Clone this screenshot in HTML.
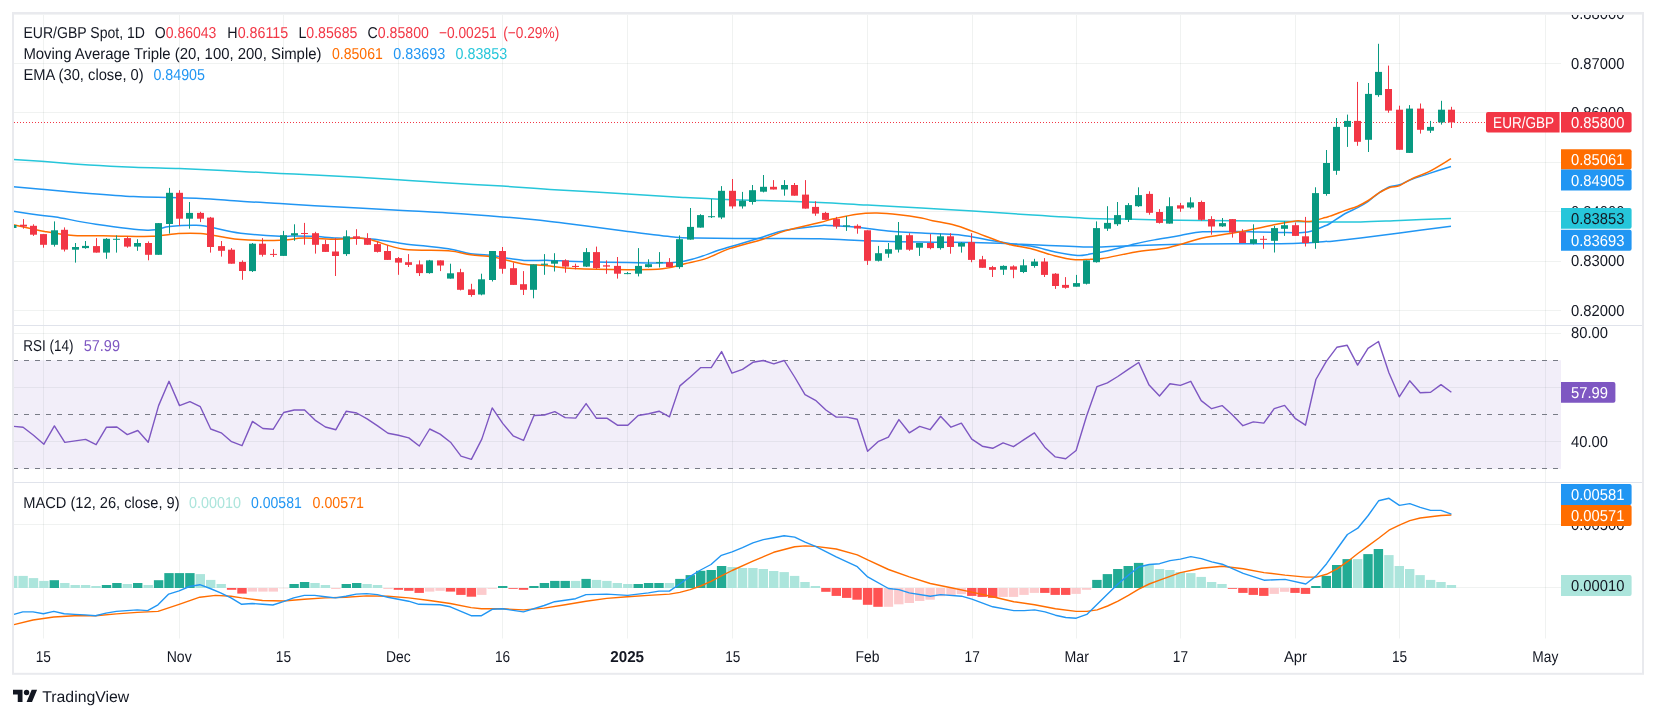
<!DOCTYPE html>
<html><head><meta charset="utf-8"><title>EUR/GBP Chart</title>
<style>html,body{margin:0;padding:0;background:#ffffff;width:1656px;height:718px;overflow:hidden}svg{display:block;will-change:transform}text{font-family:"Liberation Sans",sans-serif;text-rendering:geometricPrecision}</style>
</head><body>
<svg width="1656" height="718" viewBox="0 0 1656 718" font-family='"Liberation Sans", sans-serif'><line x1="43.5" y1="14" x2="43.5" y2="638.5" stroke="#3a4a3e" stroke-opacity="0.075" stroke-width="1"/>
<line x1="179.5" y1="14" x2="179.5" y2="638.5" stroke="#3a4a3e" stroke-opacity="0.075" stroke-width="1"/>
<line x1="283.5" y1="14" x2="283.5" y2="638.5" stroke="#3a4a3e" stroke-opacity="0.075" stroke-width="1"/>
<line x1="398.5" y1="14" x2="398.5" y2="638.5" stroke="#3a4a3e" stroke-opacity="0.075" stroke-width="1"/>
<line x1="502.5" y1="14" x2="502.5" y2="638.5" stroke="#3a4a3e" stroke-opacity="0.075" stroke-width="1"/>
<line x1="627.5" y1="14" x2="627.5" y2="638.5" stroke="#3a4a3e" stroke-opacity="0.075" stroke-width="1"/>
<line x1="732.5" y1="14" x2="732.5" y2="638.5" stroke="#3a4a3e" stroke-opacity="0.075" stroke-width="1"/>
<line x1="867.5" y1="14" x2="867.5" y2="638.5" stroke="#3a4a3e" stroke-opacity="0.075" stroke-width="1"/>
<line x1="972.5" y1="14" x2="972.5" y2="638.5" stroke="#3a4a3e" stroke-opacity="0.075" stroke-width="1"/>
<line x1="1076.5" y1="14" x2="1076.5" y2="638.5" stroke="#3a4a3e" stroke-opacity="0.075" stroke-width="1"/>
<line x1="1180.5" y1="14" x2="1180.5" y2="638.5" stroke="#3a4a3e" stroke-opacity="0.075" stroke-width="1"/>
<line x1="1295.5" y1="14" x2="1295.5" y2="638.5" stroke="#3a4a3e" stroke-opacity="0.075" stroke-width="1"/>
<line x1="1399.5" y1="14" x2="1399.5" y2="638.5" stroke="#3a4a3e" stroke-opacity="0.075" stroke-width="1"/>
<line x1="1545.5" y1="14" x2="1545.5" y2="638.5" stroke="#3a4a3e" stroke-opacity="0.075" stroke-width="1"/>
<line x1="14" y1="63.5" x2="1561" y2="63.5" stroke="#3a4a3e" stroke-opacity="0.075" stroke-width="1"/>
<line x1="14" y1="112.5" x2="1561" y2="112.5" stroke="#3a4a3e" stroke-opacity="0.075" stroke-width="1"/>
<line x1="14" y1="162.5" x2="1561" y2="162.5" stroke="#3a4a3e" stroke-opacity="0.075" stroke-width="1"/>
<line x1="14" y1="211.5" x2="1561" y2="211.5" stroke="#3a4a3e" stroke-opacity="0.075" stroke-width="1"/>
<line x1="14" y1="261.5" x2="1561" y2="261.5" stroke="#3a4a3e" stroke-opacity="0.075" stroke-width="1"/>
<line x1="14" y1="310.5" x2="1561" y2="310.5" stroke="#3a4a3e" stroke-opacity="0.075" stroke-width="1"/>
<line x1="14" y1="333.5" x2="1561" y2="333.5" stroke="#3a4a3e" stroke-opacity="0.075" stroke-width="1"/>
<line x1="14" y1="387.5" x2="1561" y2="387.5" stroke="#3a4a3e" stroke-opacity="0.075" stroke-width="1"/>
<line x1="14" y1="441.5" x2="1561" y2="441.5" stroke="#3a4a3e" stroke-opacity="0.075" stroke-width="1"/>
<line x1="14" y1="524.5" x2="1561" y2="524.5" stroke="#3a4a3e" stroke-opacity="0.075" stroke-width="1"/>
<line x1="14" y1="587.5" x2="1561" y2="587.5" stroke="#3a4a3e" stroke-opacity="0.075" stroke-width="1"/>
<rect x="14" y="360.2" width="1547" height="108.7" fill="#7e57c2" fill-opacity="0.1"/>
<line x1="13" y1="360.5" x2="1561" y2="360.5" stroke="#787b86" stroke-width="1" stroke-dasharray="5,6"/>
<line x1="13" y1="414.5" x2="1561" y2="414.5" stroke="#787b86" stroke-width="1" stroke-dasharray="5,6"/>
<line x1="13" y1="468.5" x2="1561" y2="468.5" stroke="#787b86" stroke-width="1" stroke-dasharray="5,6"/>
<path d="M13.4,159.6 C18.6,160.0 32.0,160.7 44.6,161.6 C57.2,162.5 74.3,164.0 89.2,165.0 C104.0,165.9 118.7,166.6 133.7,167.2 C148.8,167.8 164.6,168.0 179.4,168.5 C194.3,169.1 206.2,169.7 222.9,170.5 C239.7,171.4 264.7,172.7 280.0,173.4 C295.3,174.2 294.9,174.0 314.6,175.0 C334.3,176.0 375.9,178.3 398.2,179.7 C420.5,181.0 430.9,181.9 448.3,183.0 C465.7,184.1 485.6,185.1 502.5,186.1 C519.4,187.2 529.1,188.2 550.0,189.5 C570.8,190.8 605.1,192.6 627.6,193.9 C650.1,195.3 667.4,196.5 684.9,197.5 C702.4,198.5 719.4,199.2 732.4,199.7 C745.4,200.3 748.3,200.2 762.9,200.6 C777.5,201.1 802.5,201.7 820.0,202.4 C837.4,203.2 850.6,204.2 867.5,205.1 C884.4,206.0 903.9,207.0 921.5,208.0 C939.0,209.0 954.2,209.7 972.7,210.9 C991.3,212.1 1013.4,213.9 1032.9,215.1 C1052.5,216.4 1074.7,217.8 1090.0,218.5 C1105.3,219.1 1109.5,218.8 1124.6,219.1 C1139.6,219.4 1161.7,220.0 1180.3,220.2 C1198.9,220.5 1216.9,220.5 1236.0,220.7 C1255.2,220.9 1280.5,221.1 1295.3,221.4 C1310.2,221.6 1314.3,221.9 1325.2,222.0 C1336.1,222.1 1348.2,222.2 1360.6,221.9 C1373.0,221.7 1384.6,221.0 1399.7,220.4 C1414.7,219.8 1442.4,218.7 1451.0,218.4" fill="none" stroke="#26c6da" stroke-width="1.5" stroke-linejoin="round"/>
<path d="M13.4,186.8 C18.6,187.3 32.0,188.4 44.6,189.5 C57.2,190.6 74.3,192.3 89.2,193.5 C104.0,194.7 120.4,196.0 133.7,196.6 C147.1,197.3 158.3,197.2 169.4,197.5 C180.6,197.8 188.7,197.8 200.6,198.4 C212.5,199.0 227.5,200.4 240.7,201.3 C254.0,202.2 267.7,202.8 280.0,203.5 C292.3,204.3 294.9,204.6 314.6,205.8 C334.3,206.9 375.9,209.0 398.2,210.2 C420.5,211.4 430.9,211.8 448.3,212.9 C465.7,214.0 485.6,215.5 502.5,216.9 C519.4,218.3 536.3,219.9 550.0,221.4 C563.7,222.9 571.6,224.2 584.6,225.8 C597.5,227.5 612.7,229.5 627.6,231.4 C642.5,233.3 662.3,235.9 673.7,237.0 C685.2,238.1 681.2,237.8 696.0,238.1 C710.9,238.3 742.3,238.4 762.9,238.5 C783.6,238.6 802.5,238.4 820.0,238.8 C837.4,239.1 850.6,240.2 867.5,240.8 C884.4,241.3 903.9,241.8 921.5,242.1 C939.0,242.4 957.9,242.3 972.7,242.5 C987.6,242.8 1000.6,243.3 1010.6,243.7 C1020.7,244.0 1019.7,244.2 1032.9,244.8 C1046.1,245.3 1074.7,246.8 1090.0,247.0 C1105.3,247.2 1109.5,246.3 1124.6,245.9 C1139.6,245.4 1161.7,244.7 1180.3,244.3 C1198.9,244.0 1219.3,243.8 1236.0,243.7 C1252.8,243.5 1269.5,243.8 1280.6,243.7 C1291.8,243.5 1295.5,243.4 1302.9,243.0 C1310.3,242.6 1320.7,241.7 1325.2,241.4 C1329.7,241.2 1324.1,241.9 1330.0,241.4 C1335.9,240.8 1349.0,239.4 1360.6,238.0 C1372.2,236.6 1384.6,234.9 1399.7,233.0 C1414.7,231.0 1442.4,227.3 1451.0,226.2" fill="none" stroke="#2196f3" stroke-width="1.5" stroke-linejoin="round"/>
<path d="M13.4,211.3 C18.6,212.1 37.5,214.9 44.6,215.8 C51.6,216.7 47.2,215.5 55.7,216.9 C64.3,218.3 80.6,222.0 95.9,224.3 C111.1,226.5 134.9,229.9 147.1,230.3 C159.4,230.7 161.2,227.3 169.4,226.5 C177.6,225.6 189.5,225.1 196.2,225.2 C202.9,225.2 202.1,225.6 209.5,226.9 C217.0,228.3 229.0,231.6 240.7,233.2 C252.5,234.7 271.4,235.9 280.0,236.3 C288.6,236.7 286.5,235.9 292.3,235.9 C298.1,235.9 307.2,235.9 314.6,236.3 C322.0,236.7 329.4,237.8 336.9,238.1 C344.3,238.4 352.9,237.9 359.2,238.1 C365.5,238.3 367.3,238.3 374.8,239.2 C382.2,240.1 391.5,242.1 403.7,243.7 C416.0,245.3 437.2,247.1 448.3,248.8 C459.5,250.5 463.2,252.6 470.6,253.7 C478.1,254.8 487.3,254.8 492.9,255.5 C498.5,256.1 498.9,256.9 504.1,257.7 C509.3,258.5 516.5,259.9 524.1,260.4 C531.8,260.8 541.4,260.2 550.0,260.4 C558.6,260.6 562.7,261.1 575.7,261.5 C588.6,261.9 611.3,262.4 627.6,262.6 C644.0,262.8 662.3,263.3 673.7,262.6 C685.2,261.9 688.6,260.2 696.0,258.1 C703.5,256.1 710.9,252.8 718.3,250.3 C725.8,247.9 733.2,245.9 740.6,243.7 C748.1,241.4 755.5,239.2 762.9,237.0 C770.3,234.7 775.7,232.1 785.2,230.3 C794.7,228.4 812.9,226.6 820.0,225.8 C827.1,225.0 822.1,225.2 827.8,225.4 C833.6,225.6 844.6,226.0 854.6,226.9 C864.6,227.9 875.0,229.8 888.0,230.9 C901.0,232.1 920.3,232.9 932.6,233.6 C944.9,234.3 952.3,234.1 961.6,235.2 C970.9,236.2 980.2,238.5 988.3,239.9 C996.5,241.3 1003.2,242.5 1010.6,243.7 C1018.1,244.8 1025.5,245.2 1032.9,246.6 C1040.3,247.9 1047.8,250.4 1055.2,251.9 C1062.6,253.4 1072.3,255.0 1077.5,255.5 C1082.7,256.0 1084.6,255.0 1086.7,254.8 C1088.8,254.6 1086.6,254.8 1090.0,254.1 C1093.3,253.5 1099.1,252.8 1106.7,251.0 C1114.4,249.3 1127.2,245.6 1135.7,243.7 C1144.3,241.7 1150.6,240.6 1158.0,239.2 C1165.5,237.8 1172.9,236.6 1180.3,235.4 C1187.7,234.2 1193.3,232.5 1202.6,231.8 C1211.9,231.2 1226.8,231.4 1236.0,231.4 C1245.3,231.4 1250.9,231.9 1258.3,232.1 C1265.8,232.2 1273.2,232.4 1280.6,232.5 C1288.1,232.6 1297.3,232.9 1302.9,232.5 C1308.5,232.1 1310.3,231.4 1314.1,230.3 C1317.8,229.2 1322.6,227.0 1325.2,225.8 C1327.9,224.7 1326.6,225.5 1330.0,223.5 C1333.4,221.4 1340.7,216.1 1345.3,213.5 C1349.9,210.9 1353.7,209.7 1357.6,207.7 C1361.4,205.6 1364.7,203.7 1368.3,201.3 C1371.9,198.8 1375.4,195.3 1379.0,192.8 C1382.6,190.4 1386.3,188.1 1389.7,186.7 C1393.2,185.4 1396.1,185.9 1399.7,184.7 C1403.3,183.5 1406.2,181.4 1411.2,179.5 C1416.1,177.6 1422.9,175.6 1429.5,173.4 C1436.2,171.2 1447.4,167.6 1451.0,166.5" fill="none" stroke="#2196f3" stroke-width="1.5" stroke-linejoin="round"/>
<path d="M13.4,224.7 C18.6,225.8 34.6,229.6 44.6,231.4 C54.6,233.2 62.4,234.7 73.6,235.4 C84.7,236.2 98.5,235.7 111.5,235.9 C124.5,236.0 140.4,236.7 151.6,236.3 C162.7,235.9 170.2,234.1 178.3,233.6 C186.5,233.2 193.2,233.1 200.6,233.6 C208.1,234.2 216.2,236.0 222.9,237.0 C229.6,238.0 231.2,239.1 240.7,239.6 C250.3,240.2 269.5,240.6 280.0,240.3 C290.4,240.1 294.0,238.3 303.4,238.1 C312.9,237.9 327.6,239.2 336.9,239.2 C346.2,239.2 353.2,237.9 359.2,238.1 C365.1,238.3 365.1,238.5 372.5,240.3 C380.0,242.2 391.1,247.5 403.7,249.2 C416.4,251.0 437.2,249.9 448.3,250.8 C459.5,251.7 463.2,253.8 470.6,254.8 C478.1,255.8 485.5,255.8 492.9,257.0 C500.3,258.3 509.6,260.9 515.2,262.2 C520.8,263.4 520.6,263.8 526.4,264.4 C532.1,265.0 542.1,265.2 550.0,265.9 C557.8,266.7 560.5,268.0 573.4,268.6 C586.4,269.3 612.7,269.7 627.6,269.7 C642.5,269.8 653.1,269.8 662.6,268.8 C672.2,267.8 677.5,265.5 684.9,263.7 C692.3,261.9 699.8,260.7 707.2,258.1 C714.6,255.6 720.2,251.7 729.5,248.6 C738.8,245.4 753.6,242.1 762.9,239.2 C772.2,236.3 775.7,233.7 785.2,230.9 C794.7,228.2 812.1,224.4 820.0,222.5 C827.8,220.5 826.2,220.5 832.3,219.1 C838.4,217.8 849.4,215.2 856.8,214.2 C864.2,213.2 869.8,213.0 876.9,213.1 C883.9,213.2 891.7,213.9 899.2,214.7 C906.6,215.5 915.9,217.0 921.5,218.0 C927.0,219.0 927.0,219.5 932.6,220.7 C938.2,221.9 948.2,223.4 954.9,225.2 C961.6,226.9 965.3,228.7 972.7,231.4 C980.2,234.1 993.2,239.2 999.5,241.4 C1005.8,243.7 1005.1,243.5 1010.6,244.8 C1016.2,246.1 1025.5,247.4 1032.9,249.2 C1040.3,251.1 1048.1,254.2 1055.2,255.9 C1062.3,257.7 1069.5,259.1 1075.3,259.7 C1081.1,260.3 1085.5,259.4 1090.0,259.3 C1094.5,259.1 1094.7,259.8 1102.3,258.6 C1109.9,257.4 1124.6,253.8 1135.7,251.9 C1146.9,250.0 1158.0,249.7 1169.2,247.4 C1180.3,245.1 1191.5,240.6 1202.6,238.1 C1213.7,235.6 1224.9,234.6 1236.0,232.5 C1247.2,230.5 1259.6,227.8 1269.5,225.8 C1279.4,223.9 1288.6,221.7 1295.3,220.9 C1302.0,220.2 1304.6,221.9 1309.6,221.4 C1314.6,220.8 1321.8,218.5 1325.2,217.6 C1328.6,216.7 1326.6,217.3 1330.0,216.1 C1333.4,214.9 1340.7,212.1 1345.3,210.4 C1349.9,208.8 1353.7,207.8 1357.6,206.2 C1361.4,204.5 1364.7,202.7 1368.3,200.5 C1371.9,198.3 1375.4,195.0 1379.0,192.8 C1382.6,190.7 1386.3,188.7 1389.7,187.5 C1393.2,186.3 1396.1,187.0 1399.7,185.6 C1403.3,184.2 1406.2,181.4 1411.2,179.1 C1416.1,176.7 1422.9,174.8 1429.5,171.4 C1436.2,168.0 1447.4,160.8 1451.0,158.7" fill="none" stroke="#ff6d00" stroke-width="1.5" stroke-linejoin="round"/>
<line x1="14" y1="122.5" x2="1486" y2="122.5" stroke="#f23645" stroke-width="1" stroke-dasharray="1,2"/>
<rect x="14" y="225" width="2.5" height="3" fill="#089981"/>
<rect x="23" y="219.1" width="1" height="9.6" fill="#f23645"/>
<rect x="20" y="224.7" width="7" height="1.8" fill="#f23645"/>
<rect x="33" y="224.3" width="1" height="11.6" fill="#f23645"/>
<rect x="30" y="225.8" width="7" height="8.9" fill="#f23645"/>
<rect x="43" y="234.1" width="1" height="13.6" fill="#f23645"/>
<rect x="40" y="234.1" width="7" height="10.7" fill="#f23645"/>
<rect x="54" y="221.4" width="1" height="25.2" fill="#089981"/>
<rect x="51" y="230.3" width="7" height="14.5" fill="#089981"/>
<rect x="64" y="227.4" width="1" height="24.1" fill="#f23645"/>
<rect x="61" y="229.8" width="7" height="19.8" fill="#f23645"/>
<rect x="75" y="243.0" width="1" height="19.6" fill="#089981"/>
<rect x="72" y="247.0" width="7" height="2.7" fill="#089981"/>
<rect x="85" y="241.0" width="1" height="7.8" fill="#089981"/>
<rect x="82" y="245.9" width="7" height="2.2" fill="#089981"/>
<rect x="96" y="238.1" width="1" height="14.5" fill="#f23645"/>
<rect x="93" y="246.1" width="7" height="6.5" fill="#f23645"/>
<rect x="106" y="238.1" width="1" height="20.7" fill="#089981"/>
<rect x="103" y="238.8" width="7" height="13.8" fill="#089981"/>
<rect x="116" y="235.4" width="1" height="17.2" fill="#089981"/>
<rect x="113" y="238.8" width="7" height="1.0" fill="#089981"/>
<rect x="127" y="236.3" width="1" height="11.4" fill="#f23645"/>
<rect x="124" y="238.1" width="7" height="8.5" fill="#f23645"/>
<rect x="137" y="239.2" width="1" height="11.6" fill="#089981"/>
<rect x="134" y="243.0" width="7" height="3.6" fill="#089981"/>
<rect x="148" y="241.4" width="1" height="18.9" fill="#f23645"/>
<rect x="145" y="243.0" width="7" height="11.8" fill="#f23645"/>
<rect x="158" y="223.1" width="1" height="31.7" fill="#089981"/>
<rect x="155" y="223.1" width="7" height="31.7" fill="#089981"/>
<rect x="169" y="187.9" width="1" height="45.7" fill="#089981"/>
<rect x="166" y="192.8" width="7" height="31.2" fill="#089981"/>
<rect x="179" y="190.2" width="1" height="35.7" fill="#f23645"/>
<rect x="176" y="192.8" width="7" height="25.9" fill="#f23645"/>
<rect x="189" y="202.0" width="1" height="26.7" fill="#089981"/>
<rect x="186" y="212.9" width="7" height="5.8" fill="#089981"/>
<rect x="200" y="211.8" width="1" height="10.3" fill="#f23645"/>
<rect x="197" y="212.9" width="7" height="5.8" fill="#f23645"/>
<rect x="210" y="216.9" width="1" height="35.7" fill="#f23645"/>
<rect x="207" y="217.6" width="7" height="29.4" fill="#f23645"/>
<rect x="221" y="241.0" width="1" height="15.6" fill="#f23645"/>
<rect x="218" y="246.1" width="7" height="4.7" fill="#f23645"/>
<rect x="231" y="248.1" width="1" height="15.6" fill="#f23645"/>
<rect x="228" y="249.7" width="7" height="14.0" fill="#f23645"/>
<rect x="242" y="260.4" width="1" height="19.4" fill="#f23645"/>
<rect x="239" y="261.9" width="7" height="9.1" fill="#f23645"/>
<rect x="252" y="243.0" width="1" height="29.0" fill="#089981"/>
<rect x="249" y="243.7" width="7" height="27.4" fill="#089981"/>
<rect x="262" y="238.1" width="1" height="18.5" fill="#f23645"/>
<rect x="259" y="243.7" width="7" height="11.1" fill="#f23645"/>
<rect x="273" y="249.2" width="1" height="7.8" fill="#f23645"/>
<rect x="270" y="253.9" width="7" height="1.0" fill="#f23645"/>
<rect x="283" y="230.9" width="1" height="25.0" fill="#089981"/>
<rect x="280" y="235.2" width="7" height="20.7" fill="#089981"/>
<rect x="294" y="224.3" width="1" height="16.5" fill="#089981"/>
<rect x="291" y="233.2" width="7" height="2.2" fill="#089981"/>
<rect x="304" y="222.9" width="1" height="21.8" fill="#f23645"/>
<rect x="301" y="233.0" width="7" height="1.0" fill="#f23645"/>
<rect x="315" y="231.8" width="1" height="21.8" fill="#f23645"/>
<rect x="312" y="233.2" width="7" height="11.6" fill="#f23645"/>
<rect x="325" y="239.9" width="1" height="12.0" fill="#f23645"/>
<rect x="322" y="244.1" width="7" height="7.8" fill="#f23645"/>
<rect x="335" y="238.1" width="1" height="37.9" fill="#f23645"/>
<rect x="332" y="251.5" width="7" height="4.5" fill="#f23645"/>
<rect x="346" y="230.3" width="1" height="25.6" fill="#089981"/>
<rect x="343" y="236.3" width="7" height="17.8" fill="#089981"/>
<rect x="356" y="229.2" width="1" height="15.6" fill="#f23645"/>
<rect x="353" y="236.3" width="7" height="2.5" fill="#f23645"/>
<rect x="367" y="233.2" width="1" height="11.6" fill="#f23645"/>
<rect x="364" y="238.1" width="7" height="6.7" fill="#f23645"/>
<rect x="377" y="241.4" width="1" height="11.1" fill="#f23645"/>
<rect x="374" y="244.1" width="7" height="7.8" fill="#f23645"/>
<rect x="387" y="245.2" width="1" height="14.7" fill="#f23645"/>
<rect x="384" y="251.0" width="7" height="8.9" fill="#f23645"/>
<rect x="398" y="257.0" width="1" height="17.8" fill="#f23645"/>
<rect x="395" y="258.1" width="7" height="4.5" fill="#f23645"/>
<rect x="408" y="254.1" width="1" height="12.9" fill="#f23645"/>
<rect x="405" y="262.2" width="7" height="2.7" fill="#f23645"/>
<rect x="419" y="260.4" width="1" height="15.6" fill="#f23645"/>
<rect x="416" y="264.4" width="7" height="8.7" fill="#f23645"/>
<rect x="429" y="259.9" width="1" height="13.8" fill="#089981"/>
<rect x="426" y="260.4" width="7" height="12.7" fill="#089981"/>
<rect x="440" y="260.4" width="1" height="10.7" fill="#f23645"/>
<rect x="437" y="260.4" width="7" height="5.1" fill="#f23645"/>
<rect x="450" y="263.7" width="1" height="14.9" fill="#089981"/>
<rect x="447" y="273.3" width="7" height="5.3" fill="#089981"/>
<rect x="460" y="268.8" width="1" height="21.6" fill="#f23645"/>
<rect x="457" y="272.2" width="7" height="17.6" fill="#f23645"/>
<rect x="471" y="283.8" width="1" height="12.9" fill="#f23645"/>
<rect x="468" y="289.4" width="7" height="5.6" fill="#f23645"/>
<rect x="481" y="273.7" width="1" height="21.6" fill="#089981"/>
<rect x="478" y="279.3" width="7" height="15.2" fill="#089981"/>
<rect x="492" y="251.0" width="1" height="30.5" fill="#089981"/>
<rect x="489" y="251.0" width="7" height="29.0" fill="#089981"/>
<rect x="502" y="247.0" width="1" height="26.7" fill="#f23645"/>
<rect x="499" y="251.0" width="7" height="17.8" fill="#f23645"/>
<rect x="513" y="262.6" width="1" height="22.3" fill="#f23645"/>
<rect x="510" y="268.2" width="7" height="16.7" fill="#f23645"/>
<rect x="523" y="271.1" width="1" height="23.9" fill="#f23645"/>
<rect x="520" y="284.2" width="7" height="5.6" fill="#f23645"/>
<rect x="533" y="264.4" width="1" height="33.9" fill="#089981"/>
<rect x="530" y="264.4" width="7" height="25.4" fill="#089981"/>
<rect x="544" y="254.1" width="1" height="20.7" fill="#089981"/>
<rect x="541" y="263.7" width="7" height="1.1" fill="#089981"/>
<rect x="554" y="253.2" width="1" height="18.3" fill="#089981"/>
<rect x="551" y="260.4" width="7" height="3.3" fill="#089981"/>
<rect x="565" y="259.3" width="1" height="13.4" fill="#f23645"/>
<rect x="562" y="260.4" width="7" height="6.2" fill="#f23645"/>
<rect x="575" y="263.7" width="1" height="5.6" fill="#f23645"/>
<rect x="572" y="265.9" width="7" height="1.1" fill="#f23645"/>
<rect x="586" y="248.1" width="1" height="18.9" fill="#089981"/>
<rect x="583" y="252.1" width="7" height="14.5" fill="#089981"/>
<rect x="596" y="246.6" width="1" height="22.3" fill="#f23645"/>
<rect x="593" y="252.1" width="7" height="16.0" fill="#f23645"/>
<rect x="606" y="260.4" width="1" height="13.4" fill="#f23645"/>
<rect x="603" y="265.3" width="7" height="1.3" fill="#f23645"/>
<rect x="617" y="257.0" width="1" height="21.6" fill="#f23645"/>
<rect x="614" y="265.9" width="7" height="7.8" fill="#f23645"/>
<rect x="627" y="272.0" width="1" height="2.2" fill="#089981"/>
<rect x="624" y="273.1" width="7" height="1.0" fill="#089981"/>
<rect x="638" y="248.1" width="1" height="28.3" fill="#089981"/>
<rect x="635" y="265.9" width="7" height="7.8" fill="#089981"/>
<rect x="648" y="259.3" width="1" height="8.2" fill="#089981"/>
<rect x="645" y="264.2" width="7" height="2.9" fill="#089981"/>
<rect x="659" y="252.1" width="1" height="15.4" fill="#089981"/>
<rect x="656" y="262.2" width="7" height="1.0" fill="#089981"/>
<rect x="669" y="258.1" width="1" height="8.9" fill="#f23645"/>
<rect x="666" y="262.2" width="7" height="4.9" fill="#f23645"/>
<rect x="679" y="235.4" width="1" height="33.4" fill="#089981"/>
<rect x="676" y="239.2" width="7" height="27.9" fill="#089981"/>
<rect x="690" y="208.0" width="1" height="31.7" fill="#089981"/>
<rect x="687" y="226.9" width="7" height="12.7" fill="#089981"/>
<rect x="700" y="214.2" width="1" height="13.4" fill="#089981"/>
<rect x="697" y="215.1" width="7" height="12.5" fill="#089981"/>
<rect x="711" y="199.1" width="1" height="18.9" fill="#089981"/>
<rect x="708" y="216.2" width="7" height="1.0" fill="#089981"/>
<rect x="721" y="186.1" width="1" height="33.0" fill="#089981"/>
<rect x="718" y="190.8" width="7" height="26.7" fill="#089981"/>
<rect x="732" y="179.0" width="1" height="29.6" fill="#f23645"/>
<rect x="729" y="190.8" width="7" height="15.6" fill="#f23645"/>
<rect x="742" y="191.9" width="1" height="16.7" fill="#089981"/>
<rect x="739" y="200.6" width="7" height="5.8" fill="#089981"/>
<rect x="752" y="185.0" width="1" height="19.6" fill="#089981"/>
<rect x="749" y="190.2" width="7" height="11.8" fill="#089981"/>
<rect x="763" y="175.0" width="1" height="17.4" fill="#089981"/>
<rect x="760" y="186.8" width="7" height="4.9" fill="#089981"/>
<rect x="773" y="180.1" width="1" height="9.4" fill="#f23645"/>
<rect x="770" y="186.8" width="7" height="2.7" fill="#f23645"/>
<rect x="784" y="180.1" width="1" height="15.6" fill="#089981"/>
<rect x="781" y="185.0" width="7" height="4.5" fill="#089981"/>
<rect x="794" y="183.0" width="1" height="12.7" fill="#f23645"/>
<rect x="791" y="185.0" width="7" height="10.7" fill="#f23645"/>
<rect x="805" y="180.1" width="1" height="28.5" fill="#f23645"/>
<rect x="802" y="194.6" width="7" height="14.0" fill="#f23645"/>
<rect x="815" y="201.3" width="1" height="14.5" fill="#f23645"/>
<rect x="812" y="206.9" width="7" height="6.7" fill="#f23645"/>
<rect x="825" y="211.8" width="1" height="8.0" fill="#f23645"/>
<rect x="822" y="212.9" width="7" height="6.9" fill="#f23645"/>
<rect x="836" y="216.9" width="1" height="11.8" fill="#f23645"/>
<rect x="833" y="219.1" width="7" height="7.4" fill="#f23645"/>
<rect x="846" y="216.2" width="1" height="14.7" fill="#089981"/>
<rect x="843" y="225.4" width="7" height="1.1" fill="#089981"/>
<rect x="857" y="224.3" width="1" height="9.4" fill="#f23645"/>
<rect x="854" y="225.8" width="7" height="2.7" fill="#f23645"/>
<rect x="867" y="230.3" width="1" height="34.6" fill="#f23645"/>
<rect x="864" y="230.3" width="7" height="30.5" fill="#f23645"/>
<rect x="878" y="245.9" width="1" height="15.6" fill="#089981"/>
<rect x="875" y="253.2" width="7" height="7.6" fill="#089981"/>
<rect x="888" y="243.0" width="1" height="14.7" fill="#089981"/>
<rect x="885" y="249.2" width="7" height="4.5" fill="#089981"/>
<rect x="898" y="222.0" width="1" height="30.5" fill="#089981"/>
<rect x="895" y="235.2" width="7" height="14.5" fill="#089981"/>
<rect x="909" y="233.2" width="1" height="17.6" fill="#f23645"/>
<rect x="906" y="235.2" width="7" height="14.5" fill="#f23645"/>
<rect x="919" y="243.0" width="1" height="12.9" fill="#089981"/>
<rect x="916" y="243.0" width="7" height="4.7" fill="#089981"/>
<rect x="930" y="234.1" width="1" height="15.2" fill="#f23645"/>
<rect x="927" y="243.0" width="7" height="5.1" fill="#f23645"/>
<rect x="940" y="233.6" width="1" height="16.0" fill="#089981"/>
<rect x="937" y="236.3" width="7" height="11.8" fill="#089981"/>
<rect x="950" y="233.2" width="1" height="20.5" fill="#f23645"/>
<rect x="947" y="236.3" width="7" height="10.7" fill="#f23645"/>
<rect x="961" y="242.1" width="1" height="10.5" fill="#089981"/>
<rect x="958" y="243.0" width="7" height="3.6" fill="#089981"/>
<rect x="971" y="233.2" width="1" height="29.0" fill="#f23645"/>
<rect x="968" y="242.1" width="7" height="17.8" fill="#f23645"/>
<rect x="982" y="255.9" width="1" height="11.8" fill="#f23645"/>
<rect x="979" y="259.3" width="7" height="8.5" fill="#f23645"/>
<rect x="992" y="265.9" width="1" height="11.1" fill="#f23645"/>
<rect x="989" y="267.1" width="7" height="2.7" fill="#f23645"/>
<rect x="1003" y="265.3" width="1" height="9.6" fill="#089981"/>
<rect x="1000" y="265.9" width="7" height="3.8" fill="#089981"/>
<rect x="1013" y="265.3" width="1" height="12.9" fill="#f23645"/>
<rect x="1010" y="266.4" width="7" height="3.3" fill="#f23645"/>
<rect x="1023" y="259.3" width="1" height="13.8" fill="#089981"/>
<rect x="1020" y="265.3" width="7" height="6.7" fill="#089981"/>
<rect x="1034" y="258.8" width="1" height="8.9" fill="#089981"/>
<rect x="1031" y="261.5" width="7" height="4.5" fill="#089981"/>
<rect x="1044" y="258.1" width="1" height="18.9" fill="#f23645"/>
<rect x="1041" y="261.5" width="7" height="13.4" fill="#f23645"/>
<rect x="1055" y="273.1" width="1" height="15.8" fill="#f23645"/>
<rect x="1052" y="273.7" width="7" height="12.3" fill="#f23645"/>
<rect x="1065" y="277.1" width="1" height="11.6" fill="#f23645"/>
<rect x="1062" y="284.9" width="7" height="2.9" fill="#f23645"/>
<rect x="1076" y="274.9" width="1" height="11.8" fill="#089981"/>
<rect x="1073" y="283.1" width="7" height="3.6" fill="#089981"/>
<rect x="1086" y="260.4" width="1" height="24.1" fill="#089981"/>
<rect x="1083" y="260.4" width="7" height="23.4" fill="#089981"/>
<rect x="1096" y="221.4" width="1" height="41.2" fill="#089981"/>
<rect x="1093" y="228.1" width="7" height="34.1" fill="#089981"/>
<rect x="1107" y="206.2" width="1" height="24.7" fill="#089981"/>
<rect x="1104" y="222.9" width="7" height="5.8" fill="#089981"/>
<rect x="1117" y="202.0" width="1" height="23.9" fill="#089981"/>
<rect x="1114" y="215.1" width="7" height="9.1" fill="#089981"/>
<rect x="1128" y="203.1" width="1" height="18.9" fill="#089981"/>
<rect x="1125" y="205.1" width="7" height="14.7" fill="#089981"/>
<rect x="1138" y="187.3" width="1" height="19.6" fill="#089981"/>
<rect x="1135" y="195.1" width="7" height="11.1" fill="#089981"/>
<rect x="1149" y="191.3" width="1" height="23.4" fill="#f23645"/>
<rect x="1146" y="193.9" width="7" height="18.9" fill="#f23645"/>
<rect x="1159" y="209.1" width="1" height="14.5" fill="#f23645"/>
<rect x="1156" y="212.0" width="7" height="10.9" fill="#f23645"/>
<rect x="1169" y="197.3" width="1" height="26.3" fill="#089981"/>
<rect x="1166" y="206.2" width="7" height="17.4" fill="#089981"/>
<rect x="1180" y="202.9" width="1" height="8.9" fill="#f23645"/>
<rect x="1177" y="205.3" width="7" height="3.3" fill="#f23645"/>
<rect x="1190" y="197.3" width="1" height="11.4" fill="#089981"/>
<rect x="1187" y="202.4" width="7" height="5.1" fill="#089981"/>
<rect x="1201" y="200.6" width="1" height="20.1" fill="#f23645"/>
<rect x="1198" y="202.0" width="7" height="17.8" fill="#f23645"/>
<rect x="1211" y="216.2" width="1" height="18.5" fill="#f23645"/>
<rect x="1208" y="219.1" width="7" height="7.4" fill="#f23645"/>
<rect x="1222" y="218.0" width="1" height="8.9" fill="#089981"/>
<rect x="1219" y="223.1" width="7" height="3.3" fill="#089981"/>
<rect x="1232" y="219.1" width="1" height="18.5" fill="#f23645"/>
<rect x="1229" y="219.1" width="7" height="13.4" fill="#f23645"/>
<rect x="1242" y="229.2" width="1" height="13.8" fill="#f23645"/>
<rect x="1239" y="232.1" width="7" height="10.9" fill="#f23645"/>
<rect x="1253" y="224.3" width="1" height="20.1" fill="#089981"/>
<rect x="1250" y="239.2" width="7" height="4.5" fill="#089981"/>
<rect x="1263" y="235.9" width="1" height="12.9" fill="#f23645"/>
<rect x="1260" y="238.8" width="7" height="1.0" fill="#f23645"/>
<rect x="1274" y="225.8" width="1" height="26.7" fill="#089981"/>
<rect x="1271" y="228.1" width="7" height="12.7" fill="#089981"/>
<rect x="1284" y="221.4" width="1" height="14.5" fill="#089981"/>
<rect x="1281" y="225.2" width="7" height="3.6" fill="#089981"/>
<rect x="1295" y="222.5" width="1" height="13.4" fill="#f23645"/>
<rect x="1292" y="225.2" width="7" height="10.7" fill="#f23645"/>
<rect x="1305" y="216.9" width="1" height="29.6" fill="#f23645"/>
<rect x="1302" y="236.3" width="7" height="6.7" fill="#f23645"/>
<rect x="1315" y="187.3" width="1" height="61.5" fill="#089981"/>
<rect x="1312" y="193.1" width="7" height="49.9" fill="#089981"/>
<rect x="1326" y="150.0" width="1" height="45.7" fill="#089981"/>
<rect x="1323" y="163.0" width="7" height="31.0" fill="#089981"/>
<rect x="1336" y="118.0" width="1" height="56.8" fill="#089981"/>
<rect x="1333" y="126.9" width="7" height="43.9" fill="#089981"/>
<rect x="1347" y="114.6" width="1" height="32.3" fill="#089981"/>
<rect x="1344" y="120.9" width="7" height="6.0" fill="#089981"/>
<rect x="1357" y="81.9" width="1" height="63.9" fill="#f23645"/>
<rect x="1354" y="120.9" width="7" height="20.9" fill="#f23645"/>
<rect x="1368" y="83.0" width="1" height="69.0" fill="#089981"/>
<rect x="1365" y="93.9" width="7" height="45.9" fill="#089981"/>
<rect x="1378" y="43.8" width="1" height="53.0" fill="#089981"/>
<rect x="1375" y="71.9" width="7" height="23.2" fill="#089981"/>
<rect x="1388" y="65.6" width="1" height="47.2" fill="#f23645"/>
<rect x="1385" y="89.0" width="7" height="21.6" fill="#f23645"/>
<rect x="1399" y="105.7" width="1" height="44.1" fill="#f23645"/>
<rect x="1396" y="109.7" width="7" height="40.1" fill="#f23645"/>
<rect x="1409" y="105.1" width="1" height="47.9" fill="#089981"/>
<rect x="1406" y="108.6" width="7" height="44.3" fill="#089981"/>
<rect x="1420" y="103.5" width="1" height="30.1" fill="#f23645"/>
<rect x="1417" y="108.6" width="7" height="21.2" fill="#f23645"/>
<rect x="1430" y="120.9" width="1" height="12.0" fill="#089981"/>
<rect x="1427" y="126.9" width="7" height="3.8" fill="#089981"/>
<rect x="1441" y="100.8" width="1" height="23.8" fill="#089981"/>
<rect x="1438" y="109.7" width="7" height="12.7" fill="#089981"/>
<rect x="1451" y="106.8" width="1" height="21.2" fill="#f23645"/>
<rect x="1448" y="109.7" width="7" height="12.7" fill="#f23645"/>
<polyline points="14.0,426.4 23.1,427.2 33.5,435.3 43.9,444.2 54.4,425.9 64.8,442.4 75.2,440.9 85.6,439.4 96.1,444.7 106.5,427.2 116.9,427.0 127.3,434.6 137.8,430.5 148.2,442.2 158.6,405.6 169.0,381.3 179.5,405.6 189.9,401.6 200.3,406.7 210.7,429.0 221.2,432.8 231.6,441.7 242.0,445.7 252.5,421.4 262.9,428.5 273.3,429.2 283.7,412.5 294.2,410.0 304.6,410.0 315.0,420.1 325.4,427.0 335.9,429.7 346.3,411.2 356.7,413.0 367.1,418.8 377.6,425.9 388.0,433.3 398.4,435.3 408.8,437.9 419.3,446.0 429.7,429.0 440.1,434.1 450.5,442.2 461.0,456.1 471.4,459.4 481.8,439.1 492.2,407.9 502.7,423.4 513.1,435.8 523.5,440.4 534.0,415.5 544.4,415.0 554.8,411.7 565.2,417.6 575.7,418.1 586.1,403.6 596.5,418.3 606.9,418.1 617.4,425.2 627.8,425.2 638.2,415.5 648.6,413.8 659.1,411.2 669.5,416.8 679.9,385.9 690.3,377.0 700.8,367.6 711.2,367.6 721.6,351.6 732.0,373.2 742.5,369.4 752.9,362.3 763.3,360.5 773.8,363.8 784.2,360.5 794.6,377.0 805.0,394.7 815.5,400.3 825.9,410.0 836.3,417.1 846.7,417.1 857.2,419.3 867.6,451.3 878.0,441.7 888.4,437.1 898.9,419.6 909.3,432.8 919.7,426.4 930.1,429.7 940.6,416.3 951.0,427.2 961.4,423.1 971.8,439.1 982.3,446.2 992.7,448.3 1003.1,442.9 1013.5,446.7 1024.0,439.6 1034.4,432.8 1044.8,447.2 1055.3,456.9 1065.7,458.7 1076.1,450.5 1086.5,416.3 1097.0,386.6 1107.4,382.8 1117.8,376.5 1128.2,369.4 1138.7,362.5 1149.1,385.1 1159.5,396.0 1169.9,383.8 1180.4,385.4 1190.8,381.3 1201.2,400.6 1211.6,408.7 1222.1,405.6 1232.5,415.0 1242.9,425.7 1253.3,421.9 1263.8,423.1 1274.2,408.7 1284.6,405.4 1295.1,418.3 1305.5,425.2 1315.9,379.5 1326.3,361.3 1336.8,347.3 1347.2,345.3 1357.6,365.1 1368.0,348.3 1378.5,341.5 1388.9,372.7 1399.3,396.8 1409.7,380.8 1420.2,392.7 1430.6,392.2 1441.0,384.6 1451.4,392.2" fill="none" stroke="#7e57c2" stroke-width="1.4" stroke-linejoin="round"/>
<rect x="14.0" y="575.9" width="3.4" height="12.1" fill="#ace5dc"/>
<rect x="18.4" y="575.9" width="9.4" height="12.1" fill="#ace5dc"/>
<rect x="28.8" y="578.1" width="9.4" height="9.9" fill="#ace5dc"/>
<rect x="39.2" y="580.9" width="9.4" height="7.1" fill="#ace5dc"/>
<rect x="49.6" y="580.2" width="9.4" height="7.8" fill="#22ab94"/>
<rect x="60.1" y="583.0" width="9.4" height="5.0" fill="#ace5dc"/>
<rect x="70.5" y="585.0" width="9.4" height="3.0" fill="#ace5dc"/>
<rect x="80.9" y="585.0" width="9.4" height="3.0" fill="#ace5dc"/>
<rect x="91.3" y="586.0" width="9.4" height="2.0" fill="#ace5dc"/>
<rect x="101.8" y="585.0" width="9.4" height="3.0" fill="#22ab94"/>
<rect x="112.2" y="583.0" width="9.4" height="5.0" fill="#22ab94"/>
<rect x="122.6" y="584.0" width="9.4" height="4.0" fill="#ace5dc"/>
<rect x="133.0" y="583.0" width="9.4" height="5.0" fill="#22ab94"/>
<rect x="143.5" y="585.0" width="9.4" height="3.0" fill="#ace5dc"/>
<rect x="153.9" y="580.2" width="9.4" height="7.8" fill="#22ab94"/>
<rect x="164.3" y="573.1" width="9.4" height="14.9" fill="#22ab94"/>
<rect x="174.7" y="573.1" width="9.4" height="14.9" fill="#22ab94"/>
<rect x="185.2" y="573.1" width="9.4" height="14.9" fill="#22ab94"/>
<rect x="195.6" y="574.1" width="9.4" height="13.9" fill="#ace5dc"/>
<rect x="206.0" y="579.9" width="9.4" height="8.1" fill="#ace5dc"/>
<rect x="216.5" y="584.0" width="9.4" height="4.0" fill="#ace5dc"/>
<rect x="226.9" y="588.0" width="9.4" height="1.8" fill="#ff5252"/>
<rect x="237.3" y="588.0" width="9.4" height="5.6" fill="#ff5252"/>
<rect x="247.7" y="588.0" width="9.4" height="3.6" fill="#fccbcd"/>
<rect x="258.2" y="588.0" width="9.4" height="3.6" fill="#fccbcd"/>
<rect x="268.6" y="588.0" width="9.4" height="3.6" fill="#fccbcd"/>
<rect x="279.0" y="588.0" width="9.4" height="0.3" fill="#fccbcd"/>
<rect x="289.4" y="584.0" width="9.4" height="4.0" fill="#22ab94"/>
<rect x="299.9" y="582.0" width="9.4" height="6.0" fill="#22ab94"/>
<rect x="310.3" y="583.0" width="9.4" height="5.0" fill="#ace5dc"/>
<rect x="320.7" y="585.0" width="9.4" height="3.0" fill="#ace5dc"/>
<rect x="331.1" y="588.0" width="9.4" height="0.3" fill="#ff5252"/>
<rect x="341.6" y="584.0" width="9.4" height="4.0" fill="#22ab94"/>
<rect x="352.0" y="583.0" width="9.4" height="5.0" fill="#22ab94"/>
<rect x="362.4" y="584.0" width="9.4" height="4.0" fill="#ace5dc"/>
<rect x="372.8" y="585.0" width="9.4" height="3.0" fill="#ace5dc"/>
<rect x="383.3" y="588.0" width="9.4" height="0.3" fill="#ff5252"/>
<rect x="393.7" y="588.0" width="9.4" height="1.8" fill="#ff5252"/>
<rect x="404.1" y="588.0" width="9.4" height="2.8" fill="#ff5252"/>
<rect x="414.5" y="588.0" width="9.4" height="4.9" fill="#ff5252"/>
<rect x="425.0" y="588.0" width="9.4" height="3.6" fill="#fccbcd"/>
<rect x="435.4" y="588.0" width="9.4" height="2.8" fill="#fccbcd"/>
<rect x="445.8" y="588.0" width="9.4" height="3.6" fill="#ff5252"/>
<rect x="456.2" y="588.0" width="9.4" height="6.9" fill="#ff5252"/>
<rect x="466.7" y="588.0" width="9.4" height="8.7" fill="#ff5252"/>
<rect x="477.1" y="588.0" width="9.4" height="6.9" fill="#fccbcd"/>
<rect x="487.5" y="588.0" width="9.4" height="0.8" fill="#fccbcd"/>
<rect x="498.0" y="586.0" width="9.4" height="2.0" fill="#22ab94"/>
<rect x="508.4" y="588.0" width="9.4" height="0.8" fill="#ff5252"/>
<rect x="518.8" y="588.0" width="9.4" height="1.8" fill="#ff5252"/>
<rect x="529.2" y="586.0" width="9.4" height="2.0" fill="#22ab94"/>
<rect x="539.7" y="583.0" width="9.4" height="5.0" fill="#22ab94"/>
<rect x="550.1" y="580.9" width="9.4" height="7.1" fill="#22ab94"/>
<rect x="560.5" y="580.9" width="9.4" height="7.1" fill="#22ab94"/>
<rect x="570.9" y="580.9" width="9.4" height="7.1" fill="#ace5dc"/>
<rect x="581.4" y="578.9" width="9.4" height="9.1" fill="#22ab94"/>
<rect x="591.8" y="579.9" width="9.4" height="8.1" fill="#ace5dc"/>
<rect x="602.2" y="580.9" width="9.4" height="7.1" fill="#ace5dc"/>
<rect x="612.6" y="583.0" width="9.4" height="5.0" fill="#ace5dc"/>
<rect x="623.1" y="584.0" width="9.4" height="4.0" fill="#ace5dc"/>
<rect x="633.5" y="584.0" width="9.4" height="4.0" fill="#22ab94"/>
<rect x="643.9" y="583.0" width="9.4" height="5.0" fill="#22ab94"/>
<rect x="654.3" y="583.0" width="9.4" height="5.0" fill="#22ab94"/>
<rect x="664.8" y="583.0" width="9.4" height="5.0" fill="#ace5dc"/>
<rect x="675.2" y="578.9" width="9.4" height="9.1" fill="#22ab94"/>
<rect x="685.6" y="575.1" width="9.4" height="12.9" fill="#22ab94"/>
<rect x="696.0" y="570.8" width="9.4" height="17.2" fill="#22ab94"/>
<rect x="706.5" y="570.0" width="9.4" height="18.0" fill="#22ab94"/>
<rect x="716.9" y="566.0" width="9.4" height="22.0" fill="#22ab94"/>
<rect x="727.3" y="567.0" width="9.4" height="21.0" fill="#ace5dc"/>
<rect x="737.8" y="568.0" width="9.4" height="20.0" fill="#ace5dc"/>
<rect x="748.2" y="568.0" width="9.4" height="20.0" fill="#ace5dc"/>
<rect x="758.6" y="569.0" width="9.4" height="19.0" fill="#ace5dc"/>
<rect x="769.0" y="571.0" width="9.4" height="17.0" fill="#ace5dc"/>
<rect x="779.5" y="572.1" width="9.4" height="15.9" fill="#ace5dc"/>
<rect x="789.9" y="575.9" width="9.4" height="12.1" fill="#ace5dc"/>
<rect x="800.3" y="582.0" width="9.4" height="6.0" fill="#ace5dc"/>
<rect x="810.7" y="586.0" width="9.4" height="2.0" fill="#ace5dc"/>
<rect x="821.2" y="588.0" width="9.4" height="3.8" fill="#ff5252"/>
<rect x="831.6" y="588.0" width="9.4" height="7.9" fill="#ff5252"/>
<rect x="842.0" y="588.0" width="9.4" height="9.9" fill="#ff5252"/>
<rect x="852.4" y="588.0" width="9.4" height="11.7" fill="#ff5252"/>
<rect x="862.9" y="588.0" width="9.4" height="16.8" fill="#ff5252"/>
<rect x="873.3" y="588.0" width="9.4" height="18.8" fill="#ff5252"/>
<rect x="883.7" y="588.0" width="9.4" height="18.8" fill="#fccbcd"/>
<rect x="894.1" y="588.0" width="9.4" height="16.3" fill="#fccbcd"/>
<rect x="904.6" y="588.0" width="9.4" height="15.0" fill="#fccbcd"/>
<rect x="915.0" y="588.0" width="9.4" height="13.0" fill="#fccbcd"/>
<rect x="925.4" y="588.0" width="9.4" height="11.7" fill="#fccbcd"/>
<rect x="935.8" y="588.0" width="9.4" height="8.2" fill="#fccbcd"/>
<rect x="946.3" y="588.0" width="9.4" height="7.4" fill="#fccbcd"/>
<rect x="956.7" y="588.0" width="9.4" height="6.1" fill="#fccbcd"/>
<rect x="967.1" y="588.0" width="9.4" height="7.9" fill="#ff5252"/>
<rect x="977.5" y="588.0" width="9.4" height="8.9" fill="#ff5252"/>
<rect x="988.0" y="588.0" width="9.4" height="9.9" fill="#ff5252"/>
<rect x="998.4" y="588.0" width="9.4" height="8.9" fill="#fccbcd"/>
<rect x="1008.8" y="588.0" width="9.4" height="8.9" fill="#fccbcd"/>
<rect x="1019.3" y="588.0" width="9.4" height="6.9" fill="#fccbcd"/>
<rect x="1029.7" y="588.0" width="9.4" height="4.9" fill="#fccbcd"/>
<rect x="1040.1" y="588.0" width="9.4" height="4.9" fill="#ff5252"/>
<rect x="1050.5" y="588.0" width="9.4" height="6.9" fill="#ff5252"/>
<rect x="1061.0" y="588.0" width="9.4" height="6.9" fill="#ff5252"/>
<rect x="1071.4" y="588.0" width="9.4" height="5.9" fill="#fccbcd"/>
<rect x="1081.8" y="588.0" width="9.4" height="1.8" fill="#fccbcd"/>
<rect x="1092.2" y="579.9" width="9.4" height="8.1" fill="#22ab94"/>
<rect x="1102.7" y="574.1" width="9.4" height="13.9" fill="#22ab94"/>
<rect x="1113.1" y="569.0" width="9.4" height="19.0" fill="#22ab94"/>
<rect x="1123.5" y="566.0" width="9.4" height="22.0" fill="#22ab94"/>
<rect x="1133.9" y="562.9" width="9.4" height="25.1" fill="#22ab94"/>
<rect x="1144.4" y="565.0" width="9.4" height="23.0" fill="#ace5dc"/>
<rect x="1154.8" y="569.0" width="9.4" height="19.0" fill="#ace5dc"/>
<rect x="1165.2" y="570.0" width="9.4" height="18.0" fill="#ace5dc"/>
<rect x="1175.6" y="572.1" width="9.4" height="15.9" fill="#ace5dc"/>
<rect x="1186.1" y="573.1" width="9.4" height="14.9" fill="#ace5dc"/>
<rect x="1196.5" y="576.9" width="9.4" height="11.1" fill="#ace5dc"/>
<rect x="1206.9" y="582.0" width="9.4" height="6.0" fill="#ace5dc"/>
<rect x="1217.3" y="584.0" width="9.4" height="4.0" fill="#ace5dc"/>
<rect x="1227.8" y="588.0" width="9.4" height="0.8" fill="#ff5252"/>
<rect x="1238.2" y="588.0" width="9.4" height="4.9" fill="#ff5252"/>
<rect x="1248.6" y="588.0" width="9.4" height="6.9" fill="#ff5252"/>
<rect x="1259.1" y="588.0" width="9.4" height="7.9" fill="#ff5252"/>
<rect x="1269.5" y="588.0" width="9.4" height="5.9" fill="#fccbcd"/>
<rect x="1279.9" y="588.0" width="9.4" height="3.8" fill="#fccbcd"/>
<rect x="1290.3" y="588.0" width="9.4" height="4.9" fill="#ff5252"/>
<rect x="1300.8" y="588.0" width="9.4" height="5.9" fill="#ff5252"/>
<rect x="1311.2" y="586.0" width="9.4" height="2.0" fill="#22ab94"/>
<rect x="1321.6" y="575.9" width="9.4" height="12.1" fill="#22ab94"/>
<rect x="1332.0" y="565.0" width="9.4" height="23.0" fill="#22ab94"/>
<rect x="1342.5" y="559.1" width="9.4" height="28.9" fill="#22ab94"/>
<rect x="1352.9" y="559.1" width="9.4" height="28.9" fill="#ace5dc"/>
<rect x="1363.3" y="554.1" width="9.4" height="33.9" fill="#22ab94"/>
<rect x="1373.7" y="549.0" width="9.4" height="39.0" fill="#22ab94"/>
<rect x="1384.2" y="555.1" width="9.4" height="32.9" fill="#ace5dc"/>
<rect x="1394.6" y="566.0" width="9.4" height="22.0" fill="#ace5dc"/>
<rect x="1405.0" y="569.0" width="9.4" height="19.0" fill="#ace5dc"/>
<rect x="1415.4" y="575.1" width="9.4" height="12.9" fill="#ace5dc"/>
<rect x="1425.9" y="579.9" width="9.4" height="8.1" fill="#ace5dc"/>
<rect x="1436.3" y="582.0" width="9.4" height="6.0" fill="#ace5dc"/>
<rect x="1446.7" y="585.0" width="9.4" height="3.0" fill="#ace5dc"/>
<polyline points="14.0,624.6 33.0,620.0 53.8,617.0 74.6,615.7 95.6,615.7 116.4,613.9 137.2,612.4 147.6,611.9 158.0,611.4 179.1,604.3 199.8,597.2 215.6,595.4 231.0,596.2 241.7,597.9 262.5,600.5 283.3,601.0 304.3,599.2 325.1,597.9 345.9,597.2 366.7,595.9 387.8,596.2 408.6,597.9 429.5,600.5 450.3,603.5 471.1,607.6 481.5,608.8 502.6,608.8 523.4,609.9 544.2,608.1 565.2,604.8 586.0,601.2 606.8,598.4 627.6,596.7 648.4,595.4 669.4,594.1 679.8,592.4 690.2,589.6 700.6,586.0 711.0,581.4 721.4,575.9 732.1,570.5 752.9,561.2 773.7,552.3 794.7,546.7 805.1,545.9 815.5,546.4 836.2,549.0 857.3,554.8 867.7,559.9 888.5,569.5 909.3,576.9 930.3,583.5 951.1,587.8 971.9,592.1 992.7,596.7 1013.8,601.7 1034.6,604.8 1055.4,608.8 1076.2,611.4 1086.8,611.4 1097.2,609.9 1107.6,606.0 1118.0,601.2 1128.4,595.4 1138.8,589.1 1149.2,584.0 1159.6,580.2 1180.4,572.6 1201.4,568.3 1222.2,566.2 1243.2,568.8 1264.0,572.6 1285.0,575.1 1305.8,577.1 1316.2,577.1 1326.6,574.3 1337.0,568.8 1347.4,561.7 1357.8,553.5 1368.2,545.9 1378.6,538.3 1389.0,530.2 1399.4,525.1 1409.8,520.6 1420.2,518.0 1430.6,516.8 1441.0,515.5 1451.4,515.0" fill="none" stroke="#ff6d00" stroke-width="1.4" stroke-linejoin="round"/>
<polyline points="14.0,614.4 22.8,611.9 33.0,611.9 43.4,613.7 53.8,611.4 64.2,613.7 74.6,614.4 85.0,614.9 95.6,615.7 106.0,613.1 116.4,611.4 126.8,610.6 137.2,609.9 147.6,610.6 158.0,604.8 168.7,594.1 179.1,590.8 189.4,586.5 199.8,584.7 210.2,588.5 220.6,592.9 231.0,597.9 241.7,604.3 252.1,603.5 262.5,604.3 272.9,605.0 283.3,601.7 293.7,597.9 304.3,595.4 314.7,595.4 325.1,596.7 335.5,597.9 345.9,596.2 356.3,594.1 366.7,593.6 377.4,594.6 387.8,597.2 398.2,599.2 408.6,601.2 418.9,604.3 439.9,604.8 450.3,606.8 471.1,615.7 481.5,615.7 492.2,609.3 502.6,608.8 523.4,611.9 544.2,605.5 554.6,601.7 575.6,598.7 586.0,594.6 606.8,594.1 627.6,595.4 648.4,592.9 659.0,591.1 669.4,591.1 679.8,584.0 690.2,576.4 700.6,570.0 711.0,564.5 721.4,555.3 732.1,551.8 742.5,547.7 752.9,542.9 763.3,539.6 773.7,537.8 784.1,535.8 794.7,537.1 805.1,542.1 815.5,546.4 836.2,556.8 857.3,566.7 867.7,576.9 888.5,588.5 898.9,589.6 909.3,592.9 930.3,596.2 940.7,594.6 961.5,596.2 971.9,599.2 992.7,606.8 1013.8,610.6 1024.2,610.6 1034.6,609.9 1045.0,611.9 1055.4,615.2 1065.8,617.5 1076.2,618.2 1086.8,614.4 1097.2,604.3 1107.6,594.1 1118.0,584.0 1128.4,575.1 1138.8,567.0 1149.2,564.5 1159.6,563.7 1170.0,560.6 1180.4,559.1 1190.8,556.6 1201.4,558.6 1211.8,561.9 1222.2,564.2 1243.2,573.3 1264.0,580.2 1285.0,579.4 1305.8,584.0 1316.2,575.9 1326.6,563.7 1337.0,549.0 1347.4,534.5 1357.8,528.2 1368.2,515.5 1378.6,500.8 1389.0,498.3 1399.4,505.4 1409.8,503.6 1420.2,507.4 1430.6,510.4 1441.0,510.4 1451.4,514.2" fill="none" stroke="#2196f3" stroke-width="1.4" stroke-linejoin="round"/>
<rect x="1561" y="14" width="81" height="624.5" fill="#ffffff"/>
<line x1="13" y1="325.5" x2="1643" y2="325.5" stroke="#e0e3eb" stroke-width="1"/>
<line x1="13" y1="482.5" x2="1643" y2="482.5" stroke="#e0e3eb" stroke-width="1"/>
<text x="23.4" y="37.8" fill="#131722" font-size="15.8" textLength="121.6" lengthAdjust="spacingAndGlyphs">EUR/GBP Spot, 1D</text>
<text x="154.8" y="37.8" font-size="15.8" fill="#131722" textLength="61.6" lengthAdjust="spacingAndGlyphs">O<tspan fill="#f23645">0.86043</tspan></text>
<text x="227.3" y="37.8" font-size="15.8" fill="#131722" textLength="60.9" lengthAdjust="spacingAndGlyphs">H<tspan fill="#f23645">0.86115</tspan></text>
<text x="298.4" y="37.8" font-size="15.8" fill="#131722" textLength="59.0" lengthAdjust="spacingAndGlyphs">L<tspan fill="#f23645">0.85685</tspan></text>
<text x="367.6" y="37.8" font-size="15.8" fill="#131722" textLength="61.3" lengthAdjust="spacingAndGlyphs">C<tspan fill="#f23645">0.85800</tspan></text>
<text x="438.9" y="37.8" fill="#f23645" font-size="15.8" textLength="57.8" lengthAdjust="spacingAndGlyphs">−0.00251</text>
<text x="503.3" y="37.8" fill="#f23645" font-size="15.8" textLength="55.9" lengthAdjust="spacingAndGlyphs">(−0.29%)</text>
<text x="23.4" y="58.8" fill="#131722" font-size="15.8" textLength="298.1" lengthAdjust="spacingAndGlyphs">Moving Average Triple (20, 100, 200, Simple)</text>
<text x="332.0" y="58.8" fill="#ff6d00" font-size="15.8" textLength="50.8" lengthAdjust="spacingAndGlyphs">0.85061</text>
<text x="393.3" y="58.8" fill="#2196f3" font-size="15.8" textLength="52.0" lengthAdjust="spacingAndGlyphs">0.83693</text>
<text x="455.5" y="58.8" fill="#26c6da" font-size="15.8" textLength="51.7" lengthAdjust="spacingAndGlyphs">0.83853</text>
<text x="23.4" y="79.8" fill="#131722" font-size="15.8" textLength="120.3" lengthAdjust="spacingAndGlyphs">EMA (30, close, 0)</text>
<text x="153.4" y="79.8" fill="#2196f3" font-size="15.8" textLength="51.6" lengthAdjust="spacingAndGlyphs">0.84905</text>
<text x="23.3" y="351.0" fill="#131722" font-size="15.8" textLength="50.2" lengthAdjust="spacingAndGlyphs">RSI (14)</text>
<text x="83.7" y="351.0" fill="#7e57c2" font-size="15.8" textLength="36.3" lengthAdjust="spacingAndGlyphs">57.99</text>
<text x="23.3" y="507.5" fill="#131722" font-size="15.8" textLength="156.3" lengthAdjust="spacingAndGlyphs">MACD (12, 26, close, 9)</text>
<text x="189.0" y="507.5" fill="#ace5dc" font-size="15.8" textLength="52.0" lengthAdjust="spacingAndGlyphs">0.00010</text>
<text x="251.0" y="507.5" fill="#2196f3" font-size="15.8" textLength="50.8" lengthAdjust="spacingAndGlyphs">0.00581</text>
<text x="312.5" y="507.5" fill="#ff6d00" font-size="15.8" textLength="51.5" lengthAdjust="spacingAndGlyphs">0.00571</text>
<defs><clipPath id="pc"><rect x="1561" y="15" width="82" height="310"/></clipPath></defs><g clip-path="url(#pc)">
<text x="1571.0" y="19.4" fill="#131722" font-size="15.8" textLength="53.4" lengthAdjust="spacingAndGlyphs">0.88000</text>
<text x="1571.0" y="68.8" fill="#131722" font-size="15.8" textLength="53.4" lengthAdjust="spacingAndGlyphs">0.87000</text>
<text x="1571.0" y="118.2" fill="#131722" font-size="15.8" textLength="53.4" lengthAdjust="spacingAndGlyphs">0.86000</text>
<text x="1571.0" y="167.6" fill="#131722" font-size="15.8" textLength="53.4" lengthAdjust="spacingAndGlyphs">0.85000</text>
<text x="1571.0" y="217.0" fill="#131722" font-size="15.8" textLength="53.4" lengthAdjust="spacingAndGlyphs">0.84000</text>
<text x="1571.0" y="266.4" fill="#131722" font-size="15.8" textLength="53.4" lengthAdjust="spacingAndGlyphs">0.83000</text>
<text x="1571.0" y="315.8" fill="#131722" font-size="15.8" textLength="53.4" lengthAdjust="spacingAndGlyphs">0.82000</text>
</g><g>
<text x="1571.0" y="338.1" fill="#131722" font-size="15.8" textLength="37.0" lengthAdjust="spacingAndGlyphs">80.00</text>
<text x="1571.0" y="447.2" fill="#131722" font-size="15.8" textLength="37.0" lengthAdjust="spacingAndGlyphs">40.00</text>
<text x="1571.0" y="530.1" fill="#131722" font-size="15.8" textLength="53.4" lengthAdjust="spacingAndGlyphs">0.00500</text>
</g>
<path d="M1488,112.1 H1559.6 V132.6 H1488 Q1486,132.6 1486,130.6 V114.1 Q1486,112.1 1488,112.1 Z" fill="#f23645"/>
<text x="1493.1" y="127.8" fill="#ffffff" font-size="15.8" textLength="61.0" lengthAdjust="spacingAndGlyphs">EUR/GBP</text>
<path d="M1561,112.1 H1629.6 Q1631.6,112.1 1631.6,114.1 V130.6 Q1631.6,132.6 1629.6,132.6 H1561 Z" fill="#f23645"/><text x="1571.0" y="127.8" fill="#ffffff" font-size="15.8" textLength="53.4" lengthAdjust="spacingAndGlyphs">0.85800</text>
<path d="M1561,149.3 H1629.6 Q1631.6,149.3 1631.6,151.3 V167.5 Q1631.6,169.5 1629.6,169.5 H1561 Z" fill="#ff6d00"/><text x="1571.0" y="164.9" fill="#ffffff" font-size="15.8" textLength="53.4" lengthAdjust="spacingAndGlyphs">0.85061</text>
<path d="M1561,169.5 H1629.6 Q1631.6,169.5 1631.6,171.5 V188.6 Q1631.6,190.6 1629.6,190.6 H1561 Z" fill="#2196f3"/><text x="1571.0" y="185.6" fill="#ffffff" font-size="15.8" textLength="53.4" lengthAdjust="spacingAndGlyphs">0.84905</text>
<path d="M1561,208.1 H1629.6 Q1631.6,208.1 1631.6,210.1 V226.8 Q1631.6,228.8 1629.6,228.8 H1561 Z" fill="#26c6da"/><text x="1571.0" y="223.9" fill="#131722" font-size="15.8" textLength="53.4" lengthAdjust="spacingAndGlyphs">0.83853</text>
<path d="M1561,229.8 H1629.6 Q1631.6,229.8 1631.6,231.8 V248.7 Q1631.6,250.7 1629.6,250.7 H1561 Z" fill="#2196f3"/><text x="1571.0" y="245.8" fill="#ffffff" font-size="15.8" textLength="53.4" lengthAdjust="spacingAndGlyphs">0.83693</text>
<path d="M1561,382 H1613.4 Q1615.4,382 1615.4,384 V400.7 Q1615.4,402.7 1613.4,402.7 H1561 Z" fill="#7e57c2"/><text x="1571.0" y="397.9" fill="#ffffff" font-size="15.8" textLength="37.0" lengthAdjust="spacingAndGlyphs">57.99</text>
<path d="M1561,484 H1629.6 Q1631.6,484 1631.6,486 V503 Q1631.6,505 1629.6,505 H1561 Z" fill="#2196f3"/><text x="1571.0" y="500.0" fill="#ffffff" font-size="15.8" textLength="53.4" lengthAdjust="spacingAndGlyphs">0.00581</text>
<path d="M1561,505 H1629.6 Q1631.6,505 1631.6,507 V524 Q1631.6,526 1629.6,526 H1561 Z" fill="#ff6d00"/><text x="1571.0" y="521.0" fill="#ffffff" font-size="15.8" textLength="53.4" lengthAdjust="spacingAndGlyphs">0.00571</text>
<path d="M1561,575 H1629.6 Q1631.6,575 1631.6,577 V594 Q1631.6,596 1629.6,596 H1561 Z" fill="#ace5dc"/><text x="1571.0" y="591.0" fill="#131722" font-size="15.8" textLength="53.4" lengthAdjust="spacingAndGlyphs">0.00010</text>
<text x="35.7" y="662.3" fill="#131722" font-size="15.8" textLength="15.2" lengthAdjust="spacingAndGlyphs">15</text>
<text x="166.7" y="662.3" fill="#131722" font-size="15.8" textLength="25.0" lengthAdjust="spacingAndGlyphs">Nov</text>
<text x="275.8" y="662.3" fill="#131722" font-size="15.8" textLength="15.2" lengthAdjust="spacingAndGlyphs">15</text>
<text x="386.0" y="662.3" fill="#131722" font-size="15.8" textLength="24.7" lengthAdjust="spacingAndGlyphs">Dec</text>
<text x="494.9" y="662.3" fill="#131722" font-size="15.8" textLength="15.2" lengthAdjust="spacingAndGlyphs">16</text>
<text x="610.2" y="662.3" fill="#131722" font-size="15.8" textLength="33.9" lengthAdjust="spacingAndGlyphs" font-weight="bold">2025</text>
<text x="725.2" y="662.3" fill="#131722" font-size="15.8" textLength="15.2" lengthAdjust="spacingAndGlyphs">15</text>
<text x="855.4" y="662.3" fill="#131722" font-size="15.8" textLength="24.0" lengthAdjust="spacingAndGlyphs">Feb</text>
<text x="964.6" y="662.3" fill="#131722" font-size="15.8" textLength="15.2" lengthAdjust="spacingAndGlyphs">17</text>
<text x="1064.5" y="662.3" fill="#131722" font-size="15.8" textLength="24.4" lengthAdjust="spacingAndGlyphs">Mar</text>
<text x="1172.8" y="662.3" fill="#131722" font-size="15.8" textLength="15.2" lengthAdjust="spacingAndGlyphs">17</text>
<text x="1283.9" y="662.3" fill="#131722" font-size="15.8" textLength="23.0" lengthAdjust="spacingAndGlyphs">Apr</text>
<text x="1392.0" y="662.3" fill="#131722" font-size="15.8" textLength="15.2" lengthAdjust="spacingAndGlyphs">15</text>
<text x="1532.3" y="662.3" fill="#131722" font-size="15.8" textLength="26.0" lengthAdjust="spacingAndGlyphs">May</text>
<rect x="13" y="13" width="1630" height="660.8" fill="none" stroke="#e9eaee" stroke-width="2"/>
<rect x="14" y="14" width="1628" height="1" fill="#f2f3f4"/>
<g transform="translate(13,687.1) scale(0.679)" fill="#131722"><path d="M14 22H7V11H0V4h14v18zM28 22h-8l7.5-18h8L28 22z"/><circle cx="20" cy="8" r="4"/></g>
<text x="42.2" y="701.9" fill="#131722" font-size="15.7" textLength="87.1" lengthAdjust="spacingAndGlyphs">TradingView</text></svg>
</body></html>
